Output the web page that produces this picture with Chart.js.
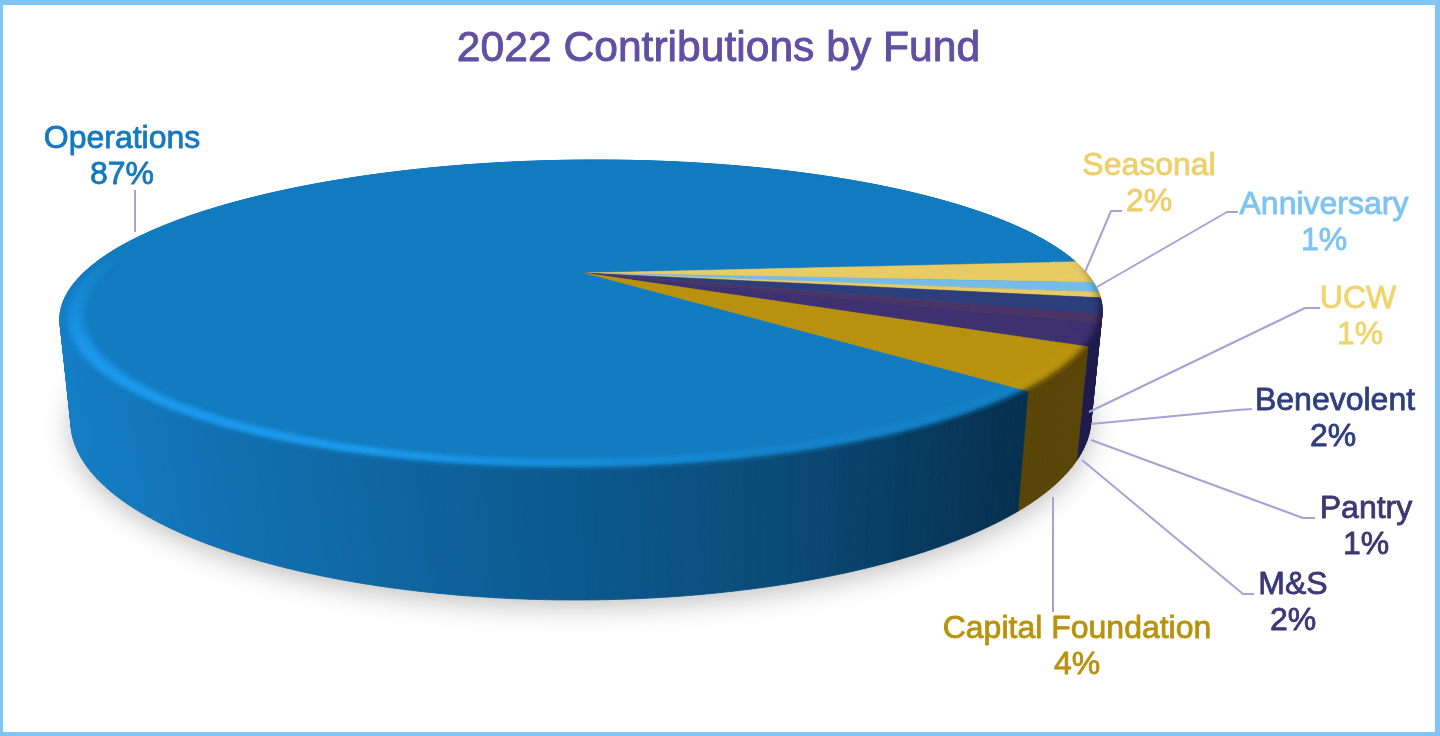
<!DOCTYPE html>
<html><head><meta charset="utf-8">
<style>
html,body{margin:0;padding:0;background:#fff;overflow:hidden}
#wrap{position:relative;width:1440px;height:736px}
#frame{position:absolute;left:0;top:0;width:1440px;height:736px;box-sizing:border-box;border:solid #7fc5f5;border-width:5px 5px 4px 3px;pointer-events:none}
canvas{display:block}
</style>
<script src="https://cdn.jsdelivr.net/npm/chart.js@4"></script>
</head><body><div id="wrap"><canvas id="c" width="1440" height="736"></canvas><div id="frame"></div></div>
<script>
const categories = ["Operations","Seasonal","Anniversary","UCW","Benevolent","Pantry","M&S","Capital Foundation"];
const shareValues = [87.01,2.3,1.03,0.57,1.68,0.94,2.19,4.28];
const topColors = ["#137cc0","#e8cb62","#74bcea","#e8cb62","#2c3f7c","#4a3465","#3d3170","#b8920e"];
const wallColors = ["#0b4a75","#6e5f2a","#3a6a8a","#6e5f2a","#1c1f4c","#241c44","#1e1b4c","#5a4508"];
const bevelColors = ["#1e9bf0","#f2dc8a","#98d2f5","#f2dc8a","#3f55a0","#62497f","#52458f","#d4ad22"];
const textColors = ["#1479bf","#ecd06a","#7cc4f2","#f0d46c","#2f3f7d","#3e3770","#3d3878","#b8920e"];
const titleText = "2022 Contributions by Fund";
const titleColor = "#5f50a3";
const firstSliceRotation = 132.2;

/* layout of the labels and leader lines, per category */
const labelLayout = [
 {x:122,y:139,x2:122,line:[[135,190],[135,232]]},
 {x:1149,y:166,x2:1149,line:[[1122,211],[1111,211],[1085,272]]},
 {x:1324,y:205,x2:1324,line:[[1238,212],[1227,212],[1097,287]]},
 {x:1358,y:299,x2:1360,line:[[1320,308],[1305,308],[1089,412]]},
 {x:1335,y:401,x2:1333,line:[[1252,409],[1237,410],[1091,424]]},
 {x:1366,y:509,x2:1366,line:[[1315,518],[1303,518],[1091,440]]},
 {x:1293,y:585,x2:1293,line:[[1254,594],[1243,594],[1082,460]]},
 {x:1077,y:629,x2:1077,line:[[1053,612],[1053,497]]}
];

/* projective maps: unit disc of the pie -> top rim plane / bottom rim plane */
const topPlane = {cx:585,cy:273,k:501.5,c:-13.7,q:143.6,s:0.271};
const basePlane = {cx:582.3,cy:375,k:493.8,c:-5,q:168.75,s:0.25};
function proj(p,a,r){
  const x=r*Math.cos(a), y=r*Math.sin(a), w=1-p.s*y;
  return [p.cx+(p.k*x+p.c*y)/w, p.cy+p.q*y/w];
}
function hex(c){return [parseInt(c.slice(1,3),16),parseInt(c.slice(3,5),16),parseInt(c.slice(5,7),16)];}
function mix(a,b,t){return [0,1,2].map(i=>a[i]+(b[i]-a[i])*t);}
function rgb(c){return `rgb(${c[0]|0},${c[1]|0},${c[2]|0})`;}
const blueWall=[[60,"#157ec6"],[200,"#1272b4"],[400,"#0f659f"],[560,"#0c5a90"],[800,"#0b4a75"],[900,"#083e64"],[1035,"#062f4e"]];
function wallColor(i,X){
  if(i!==0) return hex(wallColors[i]);
  for(let n=0;n<blueWall.length-1;n++){
    if(X<=blueWall[n+1][0]){
      const t=Math.max(0,(X-blueWall[n][0])/(blueWall[n+1][0]-blueWall[n][0]));
      return mix(hex(blueWall[n][1]),hex(blueWall[n+1][1]),t);
    }
  }
  return hex(blueWall[blueWall.length-1][1]);
}
function bevelStrength(a){
  let d=((a*180/Math.PI)%360+360)%360;
  if(d>190) return 0;
  if(d<20) return 0.05;
  if(d<70) return 0.05+0.2*(d-20)/50;
  if(d<110) return 0.25+0.75*(d-70)/40;
  if(d<150) return 1;
  return 1-(d-150)/40;
}
function frontFactor(a){return Math.max(0,Math.min(1,(Math.sin(a)+0.1)/0.4));}

const pie3d = {
  id:'pie3d',
  beforeDatasetsDraw(chart){
    const ctx=chart.ctx, arcs=chart.getDatasetMeta(0).data, step=Math.PI/180;
    ctx.save();
    /* title weight */
    const tb=chart.titleBlock, tf=chart.options.plugins.title;
    ctx.save();
    ctx.font=`${tf.font.size}px ${tf.font.family}`;ctx.textAlign='center';ctx.textBaseline='middle';
    ctx.strokeStyle=titleColor;ctx.lineWidth=0.9;ctx.lineJoin='round';
    ctx.strokeText(titleText,(tb.left+tb.right)/2,tb.top+tf.padding.top+tf.font.size*0.6);
    ctx.restore();
    /* cast shadow */
    ctx.save();
    ctx.beginPath();
    for(let d=0;d<=360;d+=2){const p=proj(basePlane,d*step,1);d?ctx.lineTo(p[0],p[1]):ctx.moveTo(p[0],p[1]);}
    ctx.closePath();
    ctx.shadowColor='rgba(0,0,0,0.26)';ctx.shadowBlur=28;ctx.shadowOffsetY=6;ctx.fillStyle='#999';ctx.fill();
    ctx.restore();
    /* walls back to front */
    const strips=[];
    arcs.forEach((el,i)=>{
      const n=Math.max(1,Math.ceil((el.endAngle-el.startAngle)/step));
      for(let j=0;j<n;j++){
        const a0=el.startAngle+(el.endAngle-el.startAngle)*j/n, a1=el.startAngle+(el.endAngle-el.startAngle)*(j+1)/n;
        strips.push({i,a0,a1});
      }
    });
    strips.sort((u,v)=>Math.sin((u.a0+u.a1)/2)-Math.sin((v.a0+v.a1)/2));
    strips.forEach(s=>{
      const A=proj(topPlane,s.a0,1),B=proj(topPlane,s.a1,1),C=proj(basePlane,s.a1,1),D=proj(basePlane,s.a0,1);
      const col=rgb(wallColor(s.i,(A[0]+B[0])/2));
      ctx.beginPath();ctx.moveTo(A[0],A[1]);ctx.lineTo(B[0],B[1]);ctx.lineTo(C[0],C[1]);ctx.lineTo(D[0],D[1]);ctx.closePath();
      ctx.fillStyle=col;ctx.strokeStyle=col;ctx.lineWidth=0.8;ctx.fill();ctx.stroke();
    });
    /* top faces */
    arcs.forEach((el,i)=>{
      ctx.beginPath();
      const O=proj(topPlane,0,0);ctx.moveTo(O[0],O[1]);
      const n=Math.max(2,Math.ceil((el.endAngle-el.startAngle)/step));
      for(let j=0;j<=n;j++){const p=proj(topPlane,el.startAngle+(el.endAngle-el.startAngle)*j/n,1);ctx.lineTo(p[0],p[1]);}
      ctx.closePath();
      ctx.fillStyle=topColors[i];ctx.strokeStyle=topColors[i];ctx.lineWidth=i===0?0.3:0.5;ctx.fill();ctx.stroke();
    });
    /* rounded rim */
    const rings=14, inner=0.945;
    arcs.forEach((el,i)=>{
      const n=Math.max(1,Math.ceil((el.endAngle-el.startAngle)/step));
      const top=hex(topColors[i]), hl=hex(bevelColors[i]);
      for(let j=0;j<n;j++){
        const a0=el.startAngle+(el.endAngle-el.startAngle)*j/n,a1=el.startAngle+(el.endAngle-el.startAngle)*(j+1)/n,am=(a0+a1)/2;
        const st=bevelStrength(am), ff=frontFactor(am);
        const Xm=proj(topPlane,am,1)[0], wc=wallColor(i,Xm);
        for(let k=0;k<rings;k++){
          const t=(k+0.5)/rings, r0=inner+(1-inner)*k/rings, r1=inner+(1-inner)*(k+1)/rings;
          let c=mix(top,hl,st*Math.pow(Math.sin(Math.PI*Math.min(1,t*0.95)),2));
          const dk=Math.max(0,(t-0.62)/0.38);
          if(dk>0) c=mix(c,wc,dk*dk*ff);
          const P=[proj(topPlane,a0,r0),proj(topPlane,a1,r0),proj(topPlane,a1,r1),proj(topPlane,a0,r1)];
          ctx.beginPath();P.forEach((p,m)=>m?ctx.lineTo(p[0],p[1]):ctx.moveTo(p[0],p[1]));ctx.closePath();
          const s=rgb(c);ctx.fillStyle=s;ctx.strokeStyle=s;ctx.lineWidth=0.6;ctx.fill();ctx.stroke();
        }
      }
    });
    /* leader lines */
    ctx.strokeStyle='#a9a0d6';ctx.lineWidth=2;ctx.lineJoin='round';
    labelLayout.forEach(l=>{ctx.beginPath();l.line.forEach((p,m)=>m?ctx.lineTo(p[0],p[1]):ctx.moveTo(p[0],p[1]));ctx.stroke();});
    /* data labels */
    ctx.font='32px "Liberation Sans"';ctx.textAlign='center';ctx.textBaseline='middle';
    ctx.lineWidth=0.8;ctx.lineJoin='round';
    categories.forEach((name,i)=>{
      const l=labelLayout[i];ctx.fillStyle=textColors[i];ctx.strokeStyle=textColors[i];
      ctx.fillText(name,l.x,l.y);ctx.strokeText(name,l.x,l.y);
      const pct=Math.round(shareValues[i])+'%';
      ctx.fillText(pct,l.x2,l.y+36);ctx.strokeText(pct,l.x2,l.y+36);
    });
    ctx.restore();
    return false;
  }
};

new Chart(document.getElementById('c'),{
  type:'pie',
  data:{labels:categories,datasets:[{data:shareValues,backgroundColor:topColors}]},
  options:{
    responsive:false,animation:false,devicePixelRatio:1,rotation:firstSliceRotation,
    events:[],
    layout:{padding:{right:3}},
    plugins:{legend:{display:false},tooltip:{enabled:false},
      title:{display:true,text:titleText,color:titleColor,align:'center',padding:{top:24,bottom:0},font:{family:'"Liberation Sans"',size:42.6,weight:'normal'}}}
  },
  plugins:[pie3d]
});
</script></body></html>
